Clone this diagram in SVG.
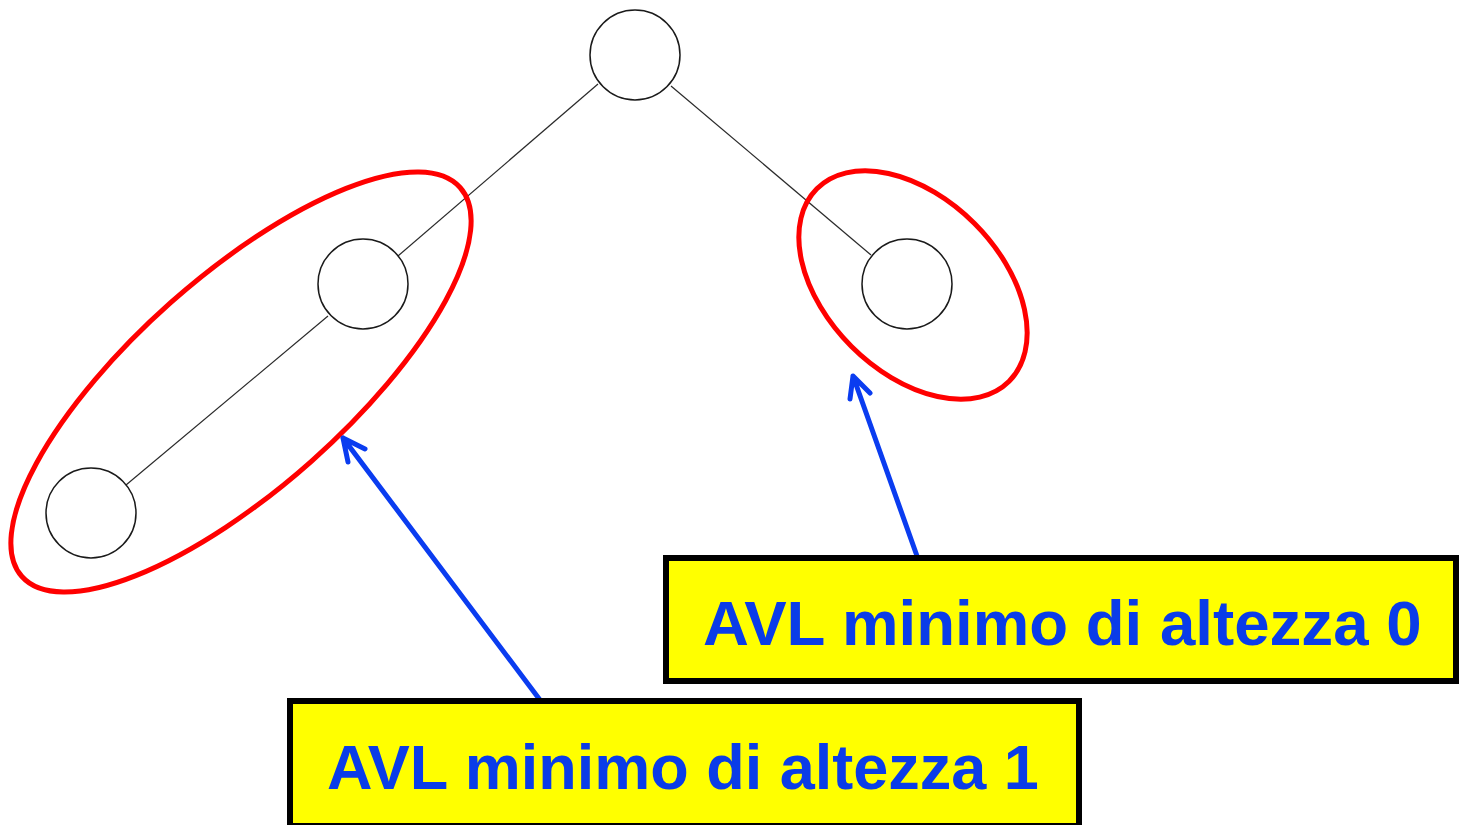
<svg xmlns="http://www.w3.org/2000/svg" width="1466" height="825" viewBox="0 0 1466 825">
  <style>
    .node { fill: #ffffff; stroke: #1a1a1a; stroke-width: 1.5; }
    .edge { stroke: #2a2a2a; stroke-width: 1.2; fill: none; }
    .group { fill: none; stroke: #ff0000; stroke-width: 5; }
    .pointer { stroke: #0a3cf0; stroke-width: 5; fill: none; stroke-linecap: round; stroke-linejoin: round; }
    .box { fill: #ffff00; stroke: #000000; stroke-width: 6; }
    .label { font-family: "Liberation Sans", Arial, sans-serif; font-weight: bold; font-size: 63px; fill: #0a3ce8; }
  </style>
  <rect width="1466" height="825" fill="#ffffff"/>

  <!-- tree edges -->
  <g id="edges">
    <line class="edge" x1="598" y1="84" x2="398" y2="256"/>
    <line class="edge" x1="671" y1="86" x2="871" y2="255"/>
    <line class="edge" x1="328" y1="316" x2="126" y2="485"/>
  </g>

  <!-- tree nodes -->
  <g id="root"><circle class="node" cx="635" cy="55" r="45"/></g>
  <g id="left"><circle class="node" cx="363" cy="284" r="45"/></g>
  <g id="left-left"><circle class="node" cx="91" cy="513" r="45"/></g>
  <g id="right"><circle class="node" cx="907" cy="284" r="45"/></g>

  <!-- subtree outlines -->
  <g id="subtree-left"><ellipse class="group" cx="241" cy="382" rx="293" ry="106" transform="rotate(-41.6 241 382)"/></g>
  <g id="subtree-right"><ellipse class="group" cx="913" cy="285" rx="136" ry="87" transform="rotate(45 913 285)"/></g>

  <!-- pointers from labels -->
  <g id="pointers">
    <path class="pointer" d="M540,700 L343,438 M348,462 L343,438 L365,449"/>
    <path class="pointer" d="M917,556 L853,376 M850,399 L853,376 L870,393"/>
  </g>

  <!-- labels -->
  <g id="label-h0">
    <rect class="box" x="666" y="558" width="790" height="123"/>
    <text class="label" x="703" y="645" style="font-size:63.6px">AVL minimo di altezza 0</text>
  </g>
  <g id="label-h1">
    <rect class="box" x="290" y="701" width="789" height="125"/>
    <text class="label" x="327" y="789">AVL minimo di altezza 1</text>
  </g>
</svg>
